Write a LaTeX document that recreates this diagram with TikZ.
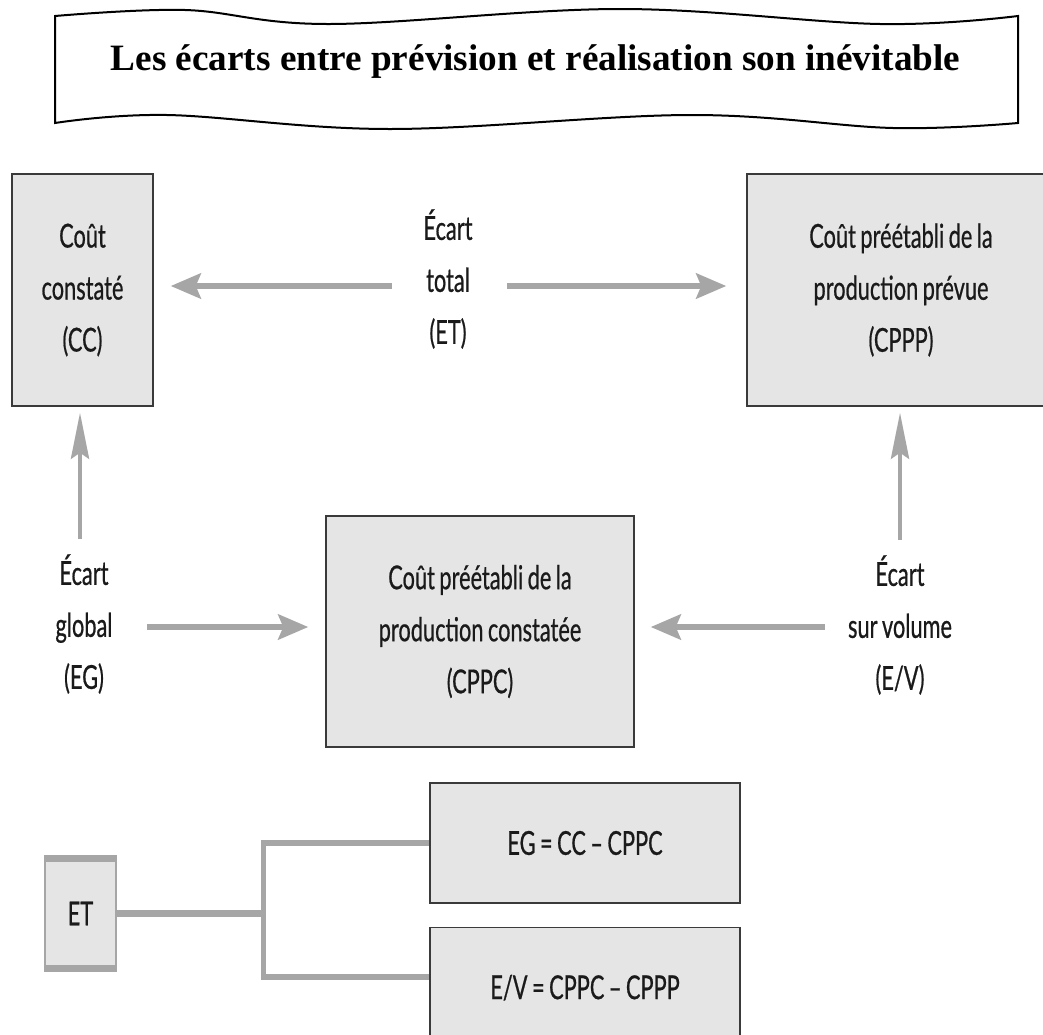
\documentclass[tikz,border=0pt]{standalone}
\usepackage{fontspec}
\usetikzlibrary{arrows.meta,calc}

\newfontfamily\titlefont{Liberation Serif}
\newfontfamily\gill[FakeStretch=0.66, FakeBold=0.6, WordSpace=0.8]{Lato}

\definecolor{boxfill}{HTML}{E5E5E5}
\definecolor{boxline}{HTML}{3A3A3A}
\definecolor{arrowgrey}{HTML}{A6A6A6}
\definecolor{ink}{HTML}{1A1A1A}

\tikzset{
  banner/.style={draw=black, line width=2pt, fill=white},
  titletext/.style={inner sep=0pt, font={\titlefont\bfseries\fontsize{37.2pt}{40pt}\selectfont}, text=black},
  bodyfont/.style={font={\gill\fontsize{33pt}{52pt}\selectfont}},
  box/.style={draw=boxline, fill=boxfill, line width=1.4pt, inner sep=0pt, align=center,
    text=ink, bodyfont},
  lbl/.style={inner sep=0pt, align=flush center, text width=110pt, text=ink, bodyfont},
  harrow/.style={draw=arrowgrey, line width=6pt, -{Stealth[length=30pt,width=25pt,inset=5pt]}},
  varrow/.style={draw=arrowgrey, line width=4.5pt, -{Stealth[length=46pt,width=18pt,inset=6pt]}},
  link/.style={draw=arrowgrey, line width=6.5pt},
  stem/.style={draw=arrowgrey, line width=4.5pt},
}

\begin{document}
\begin{tikzpicture}[x=1pt, y=-1pt]
  \useasboundingbox (0,0) rectangle (1043,1034);
  \fill[white] (0,0) rectangle (1043,1034);
  \clip (0,0) rectangle (1043,1034);

  % wavy title banner
  \draw[banner] plot[smooth, tension=0.6] coordinates
      {(55,16) (185,10) (330,24) (620,9) (880,24) (1018,16)}
    -- plot[smooth, tension=0.6] coordinates
      {(1018,123) (893,128) (690,115) (390,129) (167,115) (55,123)}
    -- cycle;
  \node[titletext, anchor=base] (title) at (535.5,70)
    {Les écarts entre prévision et réalisation son inévitable};

  % the three costs
  \node[box, minimum width=141pt, minimum height=232pt] (cc) at (82.5,290)
    {Coût\\constaté\\(CC)};
  \node[box, minimum width=308pt, minimum height=232pt] (cppp) at (901,290)
    {Coût préétabli de la\\production prévue\\(CPPP)};
  \node[box, minimum width=308pt, minimum height=231pt] (cppc) at (480,631.5)
    {Coût préétabli de la\\production constatée\\(CPPC)};

  % variance labels
  \node[lbl] (etl) at (448,279) {Écart\\total\\(ET)};
  \node[lbl] (egl) at (84,624) {Écart\\global\\(EG)};
  \node[lbl, text width=150pt] (evl) at (900,625) {Écart\\sur volume\\(E/V)};

  % arrows between labels and costs
  \draw[harrow, shorten <=1pt, shorten >=17pt]
    ([yshift=4pt]etl.west |- cc.east) -- ([yshift=4pt]cc.east);
  \draw[harrow, shorten <=4pt, shorten >=20pt]
    ([yshift=4pt]etl.east |- cppp.west) -- ([yshift=4pt]cppp.west);
  \draw[harrow, shorten <=8pt, shorten >=17pt]
    ([yshift=4.5pt]egl.east |- cppc.west) -- ([yshift=4.5pt]cppc.west);
  \draw[harrow, shorten <=0pt, shorten >=16pt]
    ([yshift=4.5pt]evl.west |- cppc.east) -- ([yshift=4.5pt]cppc.east);
  \draw[varrow, shorten <=15pt, shorten >=6pt]
    ([xshift=-2.5pt]cc.south |- egl.north) -- ([xshift=-2.5pt]cc.south);
  \draw[varrow, shorten <=15pt, shorten >=6pt]
    ([xshift=-1pt]cppp.south |- evl.north) -- ([xshift=-1pt]cppp.south);

  % decomposition of the total variance
  \node[box, minimum width=310pt, minimum height=120pt] (eg) at (585,843)
    {EG = CC – CPPC};
  \node[box, minimum width=310pt, minimum height=120pt, anchor=north] (ev) at (585,927)
    {E/V = CPPC – CPPP};
  \node[fill=boxfill, draw=arrowgrey, line width=2.5pt, inner sep=0pt,
        minimum width=71pt, minimum height=113pt, text=ink, bodyfont] (et) at (80.5,913.5) {ET};
  \draw[arrowgrey, line width=7pt] ([yshift=-3pt]et.north west) -- ([yshift=-3pt]et.north east);
  \draw[arrowgrey, line width=7pt] ([yshift=3pt]et.south west) -- ([yshift=3pt]et.south east);

  \coordinate (fork) at ($(et.east)+(146,0)$);
  \coordinate (evjoin) at ($(ev.north west)+(0,50)$);
  \draw[link] (et.east) -- (fork);
  \draw[stem] (fork |- eg.west) -- (fork |- evjoin);
  \draw[link] ([xshift=-2pt]fork |- eg.west) -- (eg.west);
  \draw[link] ([xshift=-2pt]fork |- evjoin) -- (evjoin);
\end{tikzpicture}
\end{document}
